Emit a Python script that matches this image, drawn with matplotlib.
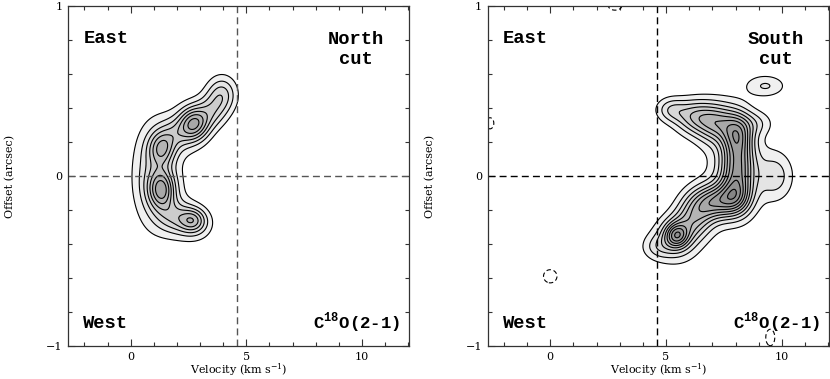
import numpy as np
import matplotlib
matplotlib.use("Agg")
import matplotlib.pyplot as plt
from matplotlib.ticker import MultipleLocator

plt.rcParams['mathtext.fontset'] = 'custom'
plt.rcParams['mathtext.rm'] = 'DejaVu Serif'
plt.rcParams['mathtext.bf'] = 'Liberation Mono:bold'
plt.rcParams['font.family'] = ['DejaVu Serif']

# ---- data: emission components ----
# North cut (velocity km/s, offset arcsec, widths, amplitude in contour units)
north_v    = [2.75, 1.35, 1.35, 2.7, 3.95, 2.0, 1.9, 0.9, 3.5, 1.8, 2.8]
north_off  = [0.31, 0.16, -0.08, -0.26, 0.48, 0.25, -0.24, 0.0, 0.38, 0.05, -0.30]
north_dv   = [0.45, 0.4, 0.4, 0.4, 0.45, 0.55, 0.55, 0.6, 0.45, 0.9, 0.6]
north_doff = [0.07, 0.07, 0.08, 0.05, 0.075, 0.07, 0.07, 0.2, 0.07, 0.3, 0.07]
north_amp  = [6.2, 4.2, 5.6, 3.8, 3.3, 2.7, 3.0, 2.4, 2.6, 0.6, 1.2]

# South cut
south_v    = [5.45, 5.4, 4.6, 5.2, 6.2, 7.2, 8.1, 8.9, 8.1, 8.0, 7.1, 6.3, 6.0, 9.7, 7.8, 9.3]
south_off  = [-0.35, -0.38, -0.42, 0.39, 0.35, 0.31, 0.24, 0.31, 0.05, -0.12, -0.15, -0.20, -0.29, 0.0, 0.05, 0.53]
south_dv   = [0.35, 0.7, 0.45, 0.45, 0.6, 0.6, 0.45, 0.5, 0.5, 0.5, 0.6, 0.55, 0.6, 0.55, 1.0, 0.6]
south_doff = [0.05, 0.09, 0.05, 0.05, 0.07, 0.08, 0.09, 0.05, 0.1, 0.08, 0.07, 0.08, 0.07, 0.1, 0.25, 0.045]
south_amp  = [5.0, 3.0, 1.5, 2.5, 4.0, 5.0, 6.0, 1.6, 6.0, 6.0, 5.5, 3.5, 2.5, 2.5, 1.2, 2.05]

# South cut negative (dashed) features
neg_v    = [0.0, 9.5, 2.8, -2.6, 1.35]
neg_off  = [-0.59, -0.95, 1.0, 0.31, -0.93]
neg_dv   = [0.3, 0.2, 0.35, 0.2, 0.05]
neg_doff = [0.04, 0.05, 0.03, 0.04, 0.01]
neg_amp  = [-1.6, -1.6, -1.4, -1.4, -1.1]

contour_levels = [1, 2, 3, 4, 5, 6, 7, 8, 9, 10]
v_sys = 4.6
x_ticks = [0, 5, 10]
y_ticks = [-1, 0, 1]

# ---- field construction ----
vg = np.linspace(-2.7, 12.05, 400)
yg = np.linspace(-1, 1, 300)
V, Y = np.meshgrid(vg, yg)


def field(vs, ys, dvs, dys, amps):
    Z = np.zeros_like(V)
    for v0, y0, dv, dy, a in zip(vs, ys, dvs, dys, amps):
        Z += a * np.exp(-0.5 * (((V - v0) / dv) ** 2 + ((Y - y0) / dy) ** 2))
    return Z


Zn = field(north_v, north_off, north_dv, north_doff, north_amp)
Zs = field(south_v, south_off, south_dv, south_doff, south_amp) + \
    field(neg_v, neg_off, neg_dv, neg_doff, neg_amp)

grays = [str(g) for g in np.linspace(0.94, 0.52, len(contour_levels))]

fig = plt.figure(figsize=(8.3, 3.79), dpi=100)
axL = fig.add_axes([0.0823, 0.0871, 0.4108, 0.8971])
axR = fig.add_axes([0.5876, 0.0871, 0.4116, 0.8971])

mono = dict(family='Liberation Mono', fontweight='bold', fontsize=13.5)

for ax, Z, dashcol, cut in [(axL, Zn, '#555555', 'North\ncut'), (axR, Zs, 'black', 'South\ncut')]:
    ax.contourf(V, Y, Z, levels=contour_levels + [1000], colors=grays)
    ax.contour(V, Y, Z, levels=contour_levels, colors='k', linewidths=0.8)
    if Z.min() < -1:
        ax.contour(V, Y, Z, levels=[-1], colors='k', linewidths=0.8,
                   linestyles=[(0, (4, 2.5))])
    ax.axvline(v_sys, color=dashcol, lw=1.0, ls=(0, (5, 3)))
    ax.axhline(0, color=dashcol, lw=1.0, ls=(0, (5, 3)))
    ax.set_xlim(-2.7, 12.05)
    ax.set_ylim(-1, 1)
    ax.set_xticks(x_ticks)
    ax.set_yticks(y_ticks)
    ax.set_yticklabels(['\u22121', '0', '1'])
    ax.xaxis.set_minor_locator(MultipleLocator(1))
    ax.yaxis.set_minor_locator(MultipleLocator(0.2))
    ax.tick_params(which='both', direction='in', top=True, right=True,
                   labelsize=8, width=0.8, color='#333333')
    ax.tick_params(which='major', length=5, pad=4)
    ax.tick_params(which='minor', length=3)
    for s in ax.spines.values():
        s.set_linewidth(0.9)
        s.set_color('#333333')
    ax.set_xlabel('Velocity (km s$^{-1}$)', fontsize=8, labelpad=0)
    ax.set_ylabel('Offset (arcsec)', fontsize=8, labelpad=22)
    ax.text(-2.05, 0.81, 'East', ha='left', va='center', **mono)
    ax.text(-2.05, -0.865, 'West', ha='left', va='center', **mono)
    ax.text(9.75, 0.745, cut, ha='center', va='center', linespacing=1.2, **mono)
    ax.text(11.65, -0.865, r'C$^{\mathbf{18}}$O(2-1)', ha='right', va='center',
            family='Liberation Mono', fontweight='bold', fontsize=12.5)

fig.savefig('out.png', dpi=100)
